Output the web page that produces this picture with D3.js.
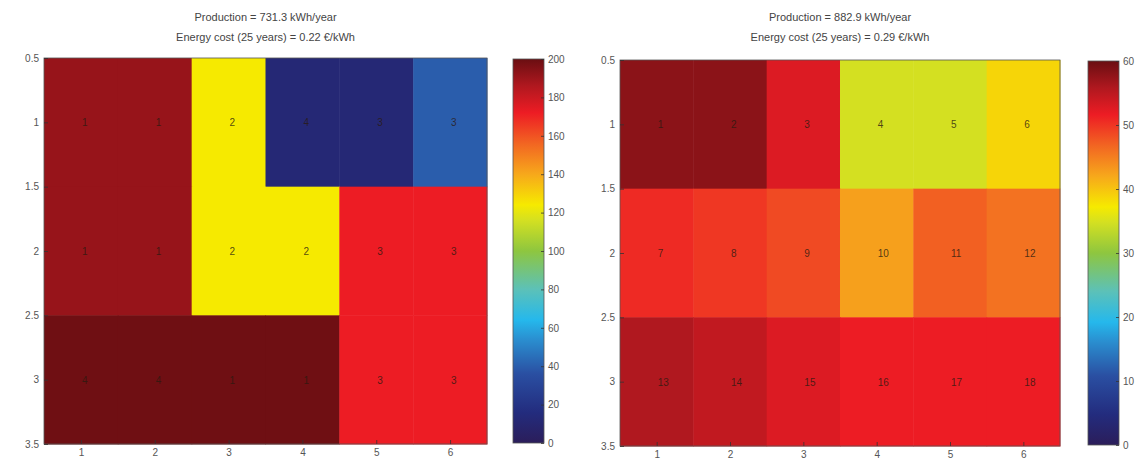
<!DOCTYPE html>
<html>
<head>
<meta charset="utf-8">
<script src="https://cdn.jsdelivr.net/npm/d3@7"></script>
<style>
html,body{margin:0;padding:0;background:#fff;}
svg{display:block;}
text{font-family:"Liberation Sans",Arial,sans-serif;}
</style>
</head>
<body>
<svg id="chart" width="1142" height="468"></svg>
<script>
// ---- data ----
const columns = [1, 2, 3, 4, 5, 6];
const rows = [1, 2, 3];
const xTicks = [1, 2, 3, 4, 5, 6];
const yTicks = [0.5, 1, 1.5, 2, 2.5, 3, 3.5];

const leftTitle = ["Production = 731.3 kWh/year", "Energy cost (25 years) = 0.22 €/kWh"];
const leftValues = [
  [191, 191, 124, 12, 12, 40],
  [191, 191, 124, 124, 172, 172],
  [199, 199, 199, 199, 172, 172]
];
const leftLabels = [
  ["1", "1", "2", "4", "3", "3"],
  ["1", "1", "2", "2", "3", "3"],
  ["4", "4", "1", "1", "3", "3"]
];
const leftCbTicks = [0, 20, 40, 60, 80, 100, 120, 140, 160, 180, 200];

const rightTitle = ["Production = 882.9 kWh/year", "Energy cost (25 years) = 0.29 €/kWh"];
const rightValues = [
  [58, 58, 52.8, 34.8, 34.8, 38.7],
  [50.7, 49.8, 48.6, 42.6, 47.1, 45.9],
  [55.8, 54.6, 52.8, 51.6, 51.6, 51.6]
];
const rightLabels = [
  ["1", "2", "3", "4", "5", "6"],
  ["7", "8", "9", "10", "11", "12"],
  ["13", "14", "15", "16", "17", "18"]
];
const rightCbTicks = [0, 10, 20, 30, 40, 50, 60];

// colormap stops (jet-like, as printed)
const cmapPos = [0, 0.08, 0.18, 0.27, 0.32, 0.40, 0.50, 0.58, 0.62, 0.70, 0.78, 0.86, 0.93, 1];
const cmapCol = ["#2b1d5a", "#232c7e", "#2a4fa2", "#2a8fd0", "#25b8ec", "#5cc1b8", "#8ec63f",
                 "#d4e021", "#f6ea00", "#f7a81b", "#f26522", "#ed1c24", "#b0181f", "#6a0e12"];

const cmap = d3.scaleLinear().domain(cmapPos).range(cmapCol).interpolate(d3.interpolateRgb).clamp(true);

const svg = d3.select("#chart");
const defs = svg.append("defs");

function drawPanel(cfg) {
  const x = d3.scaleLinear().domain([0.5, 6.5]).range([cfg.x0, cfg.x1]);
  const y = d3.scaleLinear().domain([0.5, 3.5]).range([cfg.y0, cfg.y1]);
  const color = v => cmap(v / cfg.vmax);
  const g = svg.append("g");

  const cells = [];
  rows.forEach((r, i) => columns.forEach((c, j) => {
    cells.push({r, c, v: cfg.values[i][j], label: cfg.labels[i][j]});
  }));

  g.selectAll("rect.cell").data(cells).enter().append("rect")
    .attr("class", "cell")
    .attr("x", d => x(d.c - 0.5))
    .attr("y", d => y(d.r - 0.5))
    .attr("width", d => x(d.c + 0.5) - x(d.c - 0.5) + 0.5)
    .attr("height", d => y(d.r + 0.5) - y(d.r - 0.5) + 0.5)
    .attr("fill", d => color(d.v));

  g.selectAll("text.lab").data(cells).enter().append("text")
    .attr("class", "lab")
    .attr("x", d => x(d.c) + 1)
    .attr("y", d => y(d.r) + 4)
    .attr("font-size", 10)
    .attr("fill", "#2a1a10")
    .attr("fill-opacity", 0.8)
    .text(d => d.label);

  // frame
  g.append("rect").attr("x", cfg.x0).attr("y", cfg.y0)
    .attr("width", cfg.x1 - cfg.x0).attr("height", cfg.y1 - cfg.y0)
    .attr("fill", "none").attr("stroke", "#555").attr("stroke-width", 0.8);

  const xa = g.append("g").attr("transform", `translate(0,${cfg.y1})`)
    .call(d3.axisBottom(x).tickValues(xTicks).tickFormat(d3.format("d")).tickSizeInner(-4).tickSizeOuter(0).tickPadding(5));
  const ya = g.append("g").attr("transform", `translate(${cfg.x0},0)`)
    .call(d3.axisLeft(y).tickValues(yTicks).tickFormat(d => String(d)).tickSizeInner(-4).tickSizeOuter(0).tickPadding(5));
  [xa, ya].forEach(a => {
    a.select(".domain").remove();
    a.selectAll("line").attr("stroke", "#333").attr("stroke-width", 0.8);
    a.selectAll("text").attr("font-size", 10).attr("fill", "#555")
      .style("font-family", '"Liberation Sans",Arial,sans-serif');
  });

  // title
  const cx = (cfg.x0 + cfg.x1) / 2;
  g.selectAll("text.title").data(cfg.title).enter().append("text")
    .attr("class", "title")
    .attr("x", cx).attr("y", (d, i) => 21 + i * 20)
    .attr("text-anchor", "middle").attr("font-size", 11).attr("fill", "#444")
    .text(d => d);

  // colorbar
  const gid = "grad" + cfg.id;
  const grad = defs.append("linearGradient").attr("id", gid)
    .attr("x1", 0).attr("y1", 1).attr("x2", 0).attr("y2", 0);
  grad.selectAll("stop").data(cmapPos).enter().append("stop")
    .attr("offset", d => d).attr("stop-color", (d, i) => cmapCol[i]);
  const cb = d3.scaleLinear().domain([0, cfg.vmax]).range([cfg.cbY1, cfg.cbY0]);
  g.append("rect").attr("x", cfg.cbX0).attr("y", cfg.cbY0)
    .attr("width", cfg.cbX1 - cfg.cbX0).attr("height", cfg.cbY1 - cfg.cbY0)
    .attr("fill", `url(#${gid})`).attr("stroke", "#555").attr("stroke-width", 0.8);
  const ca = g.append("g").attr("transform", `translate(${cfg.cbX1},0)`)
    .call(d3.axisRight(cb).tickValues(cfg.cbTicks).tickFormat(d3.format("d")).tickSizeInner(-3).tickSizeOuter(0).tickPadding(4));
  ca.select(".domain").remove();
  ca.selectAll("line").attr("stroke", "#333").attr("stroke-width", 0.8);
  ca.selectAll("text").attr("font-size", 10).attr("fill", "#555")
    .style("font-family", '"Liberation Sans",Arial,sans-serif');
}

drawPanel({id: "L", x0: 44, x1: 487, y0: 58, y1: 444, vmax: 200,
  values: leftValues, labels: leftLabels, title: leftTitle, cbTicks: leftCbTicks,
  cbX0: 513, cbX1: 544, cbY0: 59, cbY1: 443});
drawPanel({id: "R", x0: 620, x1: 1060, y0: 60, y1: 446, vmax: 60,
  values: rightValues, labels: rightLabels, title: rightTitle, cbTicks: rightCbTicks,
  cbX0: 1088, cbX1: 1119, cbY0: 61, cbY1: 445});
</script>
</body>
</html>
